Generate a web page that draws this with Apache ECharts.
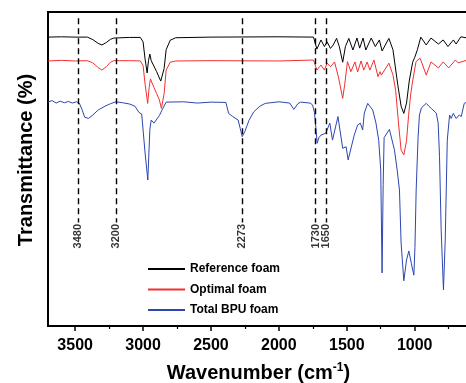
<!DOCTYPE html>
<html>
<head>
<meta charset="utf-8">
<script src="https://cdn.jsdelivr.net/npm/echarts@6/dist/echarts.min.js"></script>
<style>html,body{margin:0;padding:0;background:#fff;}#c{width:466px;height:383px;}</style>
</head>
<body>
<div id="c"></div>
<script>
const majorTicks = [3500, 3000, 2500, 2000, 1500, 1000];
const minorTicks = [3250, 2750, 2250, 1750, 1250, 750];
const markerWavenumbers = [3480, 3200, 2273, 1730, 1650];
const markerLabels = ['3480', '3200', '2273', '1730', '1650'];
const seriesNames = ['Reference foam', 'Optimal foam', 'Total BPU foam'];

const referenceFoam = [
[3700,92.0],[3600,92.1],[3500,92.0],[3410,92.0],[3370,91.2],[3330,90.0],[3303,89.5],[3270,90.3],[3240,91.3],[3215,91.7],[3100,91.9],[3020,91.9],[3000,90.5],[2985,85.0],[2970,80.6],[2960,84.5],[2950,86.6],[2940,84.5],[2900,81.0],[2870,78.0],[2860,77.5],[2845,82.0],[2830,88.0],[2800,91.0],[2760,91.8],[2500,92.0],[2000,92.1],[1745,92.0],[1720,88.2],[1690,91.1],[1665,89.0],[1645,90.5],[1620,88.4],[1600,89.5],[1575,91.6],[1555,89.0],[1530,84.0],[1510,89.0],[1485,91.6],[1455,87.9],[1425,91.7],[1405,88.5],[1380,91.7],[1360,87.9],[1320,91.7],[1290,89.0],[1260,91.1],[1240,87.6],[1190,91.6],[1160,88.0],[1125,77.0],[1100,70.0],[1080,67.7],[1060,71.0],[1040,78.0],[1015,84.0],[1000,85.5],[980,88.0],[955,92.0],[915,89.5],[880,91.7],[825,89.8],[790,91.1],[755,89.0],[715,91.1],[695,89.8],[660,92.1],[610,91.7]
];
const optimalFoam = [
[3700,84.4],[3600,84.6],[3500,84.4],[3410,84.5],[3370,83.8],[3330,82.3],[3303,81.5],[3270,82.6],[3240,84.0],[3215,84.5],[3100,84.5],[3020,84.4],[3000,83.0],[2985,77.0],[2966,70.9],[2955,76.0],[2946,78.7],[2920,76.0],[2900,74.0],[2880,72.0],[2865,69.3],[2845,74.0],[2830,81.5],[2800,84.0],[2760,84.4],[2500,84.5],[2000,84.4],[1745,84.7],[1720,81.5],[1690,83.1],[1665,81.5],[1645,83.7],[1620,82.6],[1590,84.1],[1560,79.0],[1530,72.5],[1515,77.0],[1495,84.2],[1470,81.0],[1440,84.1],[1420,80.9],[1395,84.4],[1375,81.5],[1350,84.1],[1330,81.5],[1300,84.7],[1270,79.4],[1255,81.0],[1245,79.9],[1190,83.7],[1160,80.0],[1140,75.0],[1120,65.0],[1100,56.0],[1080,54.5],[1060,59.0],[1045,67.0],[1030,73.6],[1015,78.0],[990,84.2],[960,85.3],[915,79.9],[880,84.1],[825,82.2],[790,84.1],[750,82.2],[700,84.7],[680,83.8],[610,84.7]
];
const totalBPUFoam = [
[3700,71.3],[3670,71.8],[3640,71.0],[3610,71.6],[3580,71.1],[3550,71.5],[3520,71.0],[3490,71.4],[3470,71.0],[3450,69.0],[3430,66.5],[3402,66.1],[3370,67.2],[3330,68.8],[3280,70.0],[3240,70.8],[3200,71.4],[3150,71.1],[3100,70.7],[3060,70.0],[3030,68.0],[3010,67.5],[2985,55.0],[2965,46.5],[2950,62.5],[2940,65.6],[2920,64.6],[2880,67.0],[2860,68.8],[2830,71.3],[2700,71.4],[2600,71.0],[2500,71.3],[2390,71.2],[2370,67.7],[2340,66.7],[2300,65.6],[2285,63.0],[2270,60.3],[2250,62.0],[2220,65.5],[2185,68.2],[2140,70.0],[2100,70.9],[2000,71.4],[1920,71.0],[1890,69.0],[1860,70.8],[1840,71.3],[1770,71.0],[1752,70.4],[1738,68.0],[1725,62.0],[1718,58.2],[1705,60.0],[1690,60.8],[1655,61.4],[1625,64.6],[1605,59.2],[1565,66.7],[1530,56.6],[1505,57.1],[1490,52.9],[1445,60.8],[1420,64.0],[1400,64.6],[1383,62.4],[1371,67.8],[1346,70.9],[1309,68.8],[1285,64.6],[1265,59.2],[1250,49.7],[1240,16.9],[1232,45.0],[1225,60.0],[1186,62.6],[1149,56.1],[1129,49.7],[1112,43.3],[1100,26.4],[1080,14.4],[1060,21.0],[1043,23.9],[1025,20.0],[1006,16.2],[998,25.0],[989,43.3],[975,60.0],[965,67.2],[950,69.5],[915,70.9],[895,70.0],[878,69.3],[841,67.8],[827,64.6],[817,53.9],[805,30.6],[788,11.5],[775,27.4],[760,59.2],[743,67.2],[731,66.1],[716,67.7],[694,66.1],[672,67.2],[657,66.7],[635,70.9],[612,71.4]
];

const FONT = 'Arial, "Liberation Sans", Helvetica, sans-serif';
const colors = ['#000000', '#f23030', '#2d46b0'];
const seriesData = [referenceFoam, optimalFoam, totalBPUFoam];
const markerTop = 98, markerBottom = 33;
const GRID = {left: 48, right: -3, top: 12, bottom: 57};
const plotHeight = 383 - GRID.top - GRID.bottom;

const chart = echarts.init(document.getElementById('c'), null, {renderer: 'canvas'});
const xBase = {type: 'value', min: 600, max: 3700, inverse: true, splitLine: {show: false}, gridIndex: 0};
chart.setOption({
  animation: false,
  backgroundColor: '#fff',
  grid: Object.assign({show: true, borderColor: '#000', borderWidth: 2, containLabel: false, outerBoundsMode: 'none'}, GRID),
  legend: {
    orient: 'vertical', left: 143, top: 257, itemWidth: 37, itemHeight: 2, itemGap: 6.5, icon: 'rect',
    data: seriesNames,
    textStyle: {fontFamily: FONT, fontWeight: 'bold', fontSize: 12, color: '#000', lineHeight: 14}
  },
  xAxis: [
    Object.assign({}, xBase, {
      position: 'bottom',
      axisLine: {show: true, lineStyle: {color: '#000', width: 2}},
      axisTick: {show: true, customValues: majorTicks, length: 5, lineStyle: {color: '#000', width: 1.5}},
      axisLabel: {customValues: majorTicks, formatter: v => String(v), fontFamily: FONT, fontWeight: 'bold', fontSize: 16, color: '#000', margin: 12},
      name: '{a|Wavenumber (cm}{s|-1}{a|)}',
      nameLocation: 'middle', nameGap: 36,
      nameTextStyle: {
        rich: {
          a: {fontFamily: FONT, fontWeight: 'bold', fontSize: 20, color: '#000', lineHeight: 22},
          s: {fontFamily: FONT, fontWeight: 'bold', fontSize: 12, color: '#000', verticalAlign: 'top', lineHeight: 22, padding: [0, 0, 8, 0]}
        }
      }
    }),
    Object.assign({}, xBase, {
      position: 'top', offset: -plotHeight,
      axisLine: {show: false},
      axisTick: {show: true, inside: true, customValues: minorTicks, length: 3, lineStyle: {color: '#000', width: 1.2}},
      axisLabel: {show: false}
    })
  ],
  yAxis: {
    type: 'value', min: 0, max: 100,
    axisLine: {show: true, lineStyle: {color: '#000', width: 2}},
    axisTick: {show: false}, axisLabel: {show: false}, splitLine: {show: false},
    name: 'Transmittance (%)', nameLocation: 'middle', nameGap: 12,
    nameTextStyle: {fontFamily: FONT, fontWeight: 'bold', fontSize: 20, color: '#000', padding: [0, 0, 0, 18]}
  },
  series: seriesNames.map((n, i) => ({
    name: n, type: 'line', data: seriesData[i], symbol: 'none', xAxisIndex: 0,
    lineStyle: {color: colors[i], width: 1}, itemStyle: {color: colors[i]}, z: 3 - i + 2
  })).concat([{
    name: 'markers', type: 'scatter', xAxisIndex: 0, symbolSize: 1,
    itemStyle: {color: 'rgba(0,0,0,0)'}, silent: true,
    data: markerWavenumbers.map((v, i) => ({value: [v, markerBottom - 0.5], name: markerLabels[i]})),
    label: {show: true, position: 'inside', formatter: p => p.name, rotate: 90, align: 'right', verticalAlign: 'middle',
      fontFamily: FONT, fontSize: 11, fontWeight: 'bold', color: '#000'},
    markLine: {
      silent: true, symbol: ['none', 'none'], label: {show: false},
      lineStyle: {type: [6, 4], color: '#000', width: 1.4},
      data: markerWavenumbers.map(v => [{coord: [v, markerTop]}, {coord: [v, markerBottom]}])
    }
  }])
});
</script>
</body>
</html>
